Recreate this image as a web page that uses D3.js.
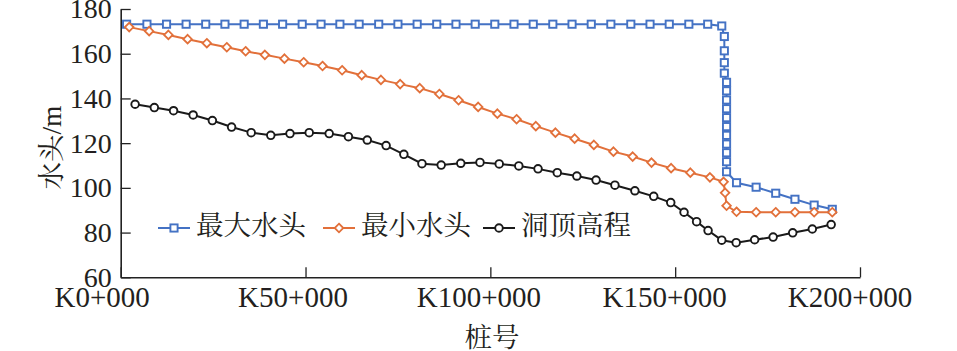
<!DOCTYPE html>
<html><head><meta charset="utf-8">
<script src="https://cdn.jsdelivr.net/npm/d3@7"></script>
<style>
body{margin:0;background:#fff}
svg text.num{font-family:"Liberation Serif","Times New Roman",Tinos,"DejaVu Serif",serif !important;font-size:28px !important}
svg text.numx{font-family:"Liberation Serif","Times New Roman",Tinos,"DejaVu Serif",serif !important;font-size:29px !important}
svg text.cjk{font-family:"Liberation Serif","Noto Serif CJK SC","Noto Sans CJK SC",serif !important;font-size:27.5px !important}
</style>
</head><body><svg id="c" width="957" height="351"></svg>
<script>
// ---- data (station km, metres) ----
const xTicks = [0, 50, 100, 150, 200];
const xTickLabels = ["K0+000", "K50+000", "K100+000", "K150+000", "K200+000"];
const yTicks = [60, 80, 100, 120, 140, 160, 180];
const seriesNames = ["最大水头", "最小水头", "洞顶高程"];

const maxHeadKm = [1.6, 7.1, 12.4, 17.7, 23.0, 28.2, 33.4, 38.6, 43.8, 49.1, 54.2, 59.3, 64.5, 69.8, 75.0, 80.2,
  85.5, 90.7, 95.9, 101.2, 106.4, 111.6, 116.9, 122.1, 127.3, 132.6, 138.0, 143.2, 148.4, 153.7, 158.8,
  162.6, 163.3, 163.3, 163.3, 163.3, 163.9, 163.9, 163.9, 163.9, 163.9, 163.9, 163.9, 163.9, 163.9, 163.9, 163.9,
  166.6, 171.9, 177.2, 182.4, 187.6, 192.5];
const maxHead = [173.2, 173.2, 173.2, 173.2, 173.2, 173.2, 173.2, 173.2, 173.2, 173.2, 173.2, 173.2, 173.2, 173.2, 173.2, 173.2,
  173.2, 173.2, 173.2, 173.2, 173.2, 173.2, 173.2, 173.2, 173.2, 173.2, 173.2, 173.2, 173.2, 173.2, 173.2,
  172.4, 167.7, 161.3, 156.0, 151.3, 147.2, 143.4, 139.3, 135.4, 131.4, 127.4, 123.5, 119.6, 115.7, 111.7, 107.2,
  102.3, 100.3, 97.6, 94.9, 92.3, 90.4];

const minHeadKm = [2.3, 7.7, 12.9, 18.1, 23.3, 28.7, 33.8, 39.0, 44.3, 49.5, 54.6, 59.9, 65.2, 70.4, 75.6, 80.9,
  86.2, 91.4, 96.7, 101.9, 107.1, 112.3, 117.6, 122.8, 128.0, 133.3, 138.5, 143.6, 148.9, 154.1, 159.4,
  163.1, 163.5, 163.9, 166.6, 171.9, 177.2, 182.4, 187.6, 192.5];
const minHead = [171.9, 170.1, 168.4, 166.5, 164.7, 162.9, 161.1, 159.5, 157.8, 156.2, 154.5, 152.6, 150.4, 148.3, 146.4, 144.6,
  142.0, 139.2, 136.2, 133.2, 130.7, 127.6, 124.7, 122.0, 119.2, 116.2, 114.0, 111.3, 108.8, 106.8, 104.7,
  102.7, 97.8, 92.0, 89.3, 89.1, 89.1, 89.1, 89.1, 89.1];

const crownKm = [3.9, 9.1, 14.3, 19.6, 24.8, 30.0, 35.3, 40.6, 45.8, 51.0, 56.4, 61.6, 66.7, 71.8, 76.6, 81.5,
  86.7, 92.0, 97.2, 102.4, 107.7, 112.9, 118.1, 123.4, 128.6, 133.7, 139.1, 144.2, 148.8, 152.4, 155.8,
  158.9, 162.6, 166.5, 171.5, 176.5, 181.8, 187.1, 192.2];
const crown = [137.4, 135.9, 134.5, 132.6, 130.1, 127.2, 124.7, 123.5, 124.3, 124.7, 124.3, 122.9, 121.4, 118.9, 115.0, 110.8,
  110.2, 111.0, 111.4, 110.7, 109.8, 108.5, 106.8, 105.3, 103.5, 101.2, 98.7, 96.2, 93.4, 89.1, 84.9,
  80.9, 76.6, 75.5, 76.8, 78.0, 79.9, 81.6, 83.6];

const colors = ["#4472C4", "#E2703A", "#1a1a1a"];
const shapes = ["square", "diamond", "circle"];

// ---- chart ----
const svg = d3.select("#c");
const x = d3.scaleLinear().domain([0, 200]).range([120.7, 860]);
const y = d3.scaleLinear().domain([60, 180]).range([277.3, 9]);
const textColor = "#231f20";

const yAxis = d3.axisLeft(y).tickValues(yTicks).tickSize(-10).tickSizeOuter(0).tickPadding(9);
const gy = svg.append("g").attr("transform", `translate(${x(0)},0)`).call(yAxis);
const xAxis = d3.axisBottom(x).tickValues(xTicks).tickSize(-10).tickSizeOuter(0).tickPadding(9)
  .tickFormat((d, i) => xTickLabels[i]);
const gx = svg.append("g").attr("transform", `translate(0,${y(60)})`).call(xAxis);

[gx, gy].forEach(g => {
  g.attr("font-family", null).attr("font-size", null);
  g.selectAll("path.domain").attr("stroke", "#222").attr("stroke-width", 1.6);
  g.selectAll(".tick line").attr("stroke", "#222").attr("stroke-width", 1.3);
  g.selectAll(".tick text").attr("class", "num").attr("fill", textColor);
});
const xLabelShift = [-19, -13, -12, -11, -10.5];
gx.selectAll(".tick text").attr("class", "numx").attr("dx", (d, i) => xLabelShift[i]);

function marker(g, shape, cx, cy, color) {
  if (shape === "square") {
    g.append("rect").attr("x", cx - 3.6).attr("y", cy - 3.6).attr("width", 7.2).attr("height", 7.2)
      .attr("fill", "#fff").attr("stroke", color).attr("stroke-width", 1.9);
  } else if (shape === "diamond") {
    const r = 4.3;
    g.append("path").attr("d", `M${cx},${cy - r}L${cx + r},${cy}L${cx},${cy + r}L${cx - r},${cy}Z`)
      .attr("fill", "#fff").attr("stroke", color).attr("stroke-width", 1.8);
  } else {
    g.append("circle").attr("cx", cx).attr("cy", cy).attr("r", 3.8)
      .attr("fill", "#fff").attr("stroke", color).attr("stroke-width", 1.9);
  }
}

const allSeries = [
  [maxHeadKm, maxHead],
  [minHeadKm, minHead],
  [crownKm, crown]
];
const line = d3.line().x(d => x(d[0])).y(d => y(d[1]));
allSeries.forEach(([ks, vs], si) => {
  const pts = ks.map((k, i) => [k, vs[i]]);
  const g = svg.append("g");
  g.append("path").attr("d", line(pts)).attr("fill", "none").attr("stroke", colors[si]).attr("stroke-width", 2);
  pts.forEach(p => marker(g, shapes[si], x(p[0]), y(p[1]), colors[si]));
});

// ---- legend ----
const legendX = [158, 323, 483];
const legendY = 228;
seriesNames.forEach((name, i) => {
  const g = svg.append("g");
  g.append("line").attr("x1", legendX[i]).attr("x2", legendX[i] + 32).attr("y1", legendY).attr("y2", legendY)
    .attr("stroke", colors[i]).attr("stroke-width", 2);
  marker(g, shapes[i], legendX[i] + 16, legendY, colors[i]);
  g.append("text").attr("class", "cjk").attr("x", legendX[i] + 38).attr("y", legendY - 3)
    .attr("dominant-baseline", "central").attr("fill", textColor).text(name);
});

// ---- axis titles ----
svg.append("text").attr("class", "cjk").attr("transform", "translate(51,147.5) rotate(-90)")
  .attr("text-anchor", "middle").attr("dominant-baseline", "central").attr("fill", textColor).text("水头/m");
svg.append("text").attr("class", "cjk").attr("x", 492).attr("y", 337).attr("text-anchor", "middle")
  .attr("dominant-baseline", "central").attr("fill", textColor).text("桩号");
</script></body></html>
